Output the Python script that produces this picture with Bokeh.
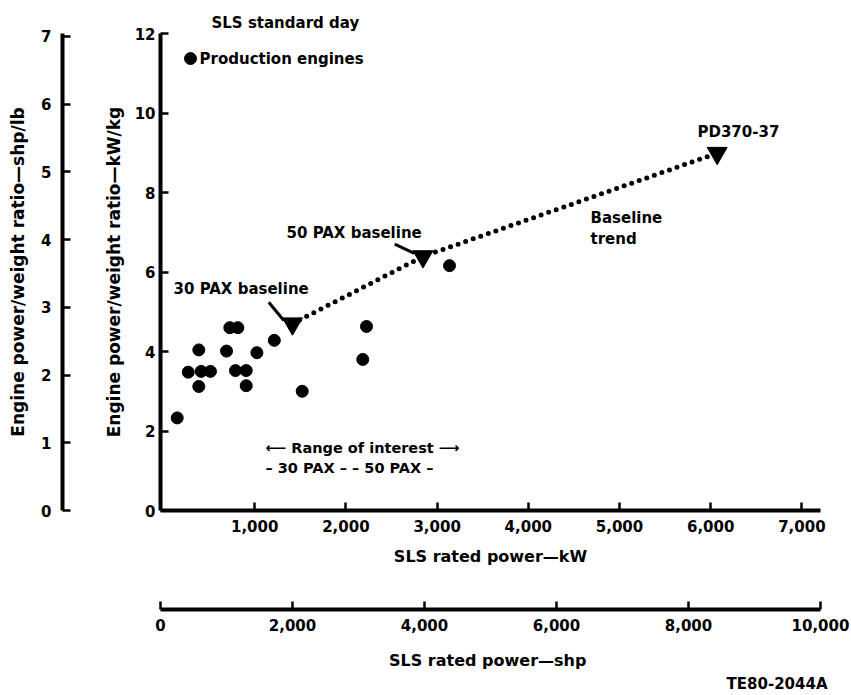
from bokeh.plotting import figure
from bokeh.models import (Range1d, LinearAxis, FixedTicker, NumeralTickFormatter,
                          Label, Title)
from bokeh.embed import file_html
from bokeh.resources import INLINE

# ---------------- data ----------------
# production engines: SLS rated power (kW) and power/weight ratio (kW/kg)
prod_kw = [150, 271, 387, 387, 413, 515, 691, 727, 815, 789, 907, 907,
           1024, 1215, 1521, 2226, 2185, 3136]
prod_ratio = [2.33, 3.48, 4.04, 3.12, 3.50, 3.50, 4.01, 4.60, 4.60, 3.52,
              3.52, 3.14, 3.97, 4.28, 3.00, 4.63, 3.80, 6.16]

# baseline engines (trend)
base_names = ["30 PAX baseline", "50 PAX baseline", "PD370-37"]
base_kw = [1414, 2845, 6071]
base_ratio = [4.70, 6.39, 8.99]

kw_ticks = [1000, 2000, 3000, 4000, 5000, 6000, 7000]
shp_ticks = [0, 2000, 4000, 6000, 8000, 10000]
kwkg_ticks = [0, 2, 4, 6, 8, 10, 12]
shplb_ticks = [0, 1, 2, 3, 4, 5, 6, 7]

FONT = "DejaVu Sans"

p = figure(width=851, height=695, output_backend="svg", toolbar_location=None,
           x_range=Range1d(-33, 7204), y_range=Range1d(0, 12),
           min_border_left=160, min_border_right=31, min_border_top=33,
           min_border_bottom=185)
p.extra_x_ranges = {"shp": Range1d(0, 10000)}
p.extra_y_ranges = {"shplb": Range1d(0, 7.044)}
p.outline_line_color = None
p.xgrid.visible = False
p.ygrid.visible = False
p.background_fill_color = "white"
p.border_fill_color = "white"


def style_axis(ax, ticks, label, label_standoff, axis_label_standoff):
    ax.ticker = FixedTicker(ticks=ticks)
    ax.axis_line_width = 4
    ax.axis_line_color = "black"
    ax.major_tick_in = 8
    ax.major_tick_out = 0
    ax.major_tick_line_width = 2.5
    ax.major_tick_line_color = "black"
    ax.minor_tick_line_color = None
    ax.major_label_text_font = FONT
    ax.major_label_text_font_style = "bold"
    ax.major_label_text_font_size = "15px"
    ax.major_label_text_color = "black"
    ax.major_label_standoff = label_standoff
    ax.axis_label = label
    ax.axis_label_text_font = FONT
    ax.axis_label_text_font_style = "bold"
    ax.axis_label_text_font_size = "16px"
    ax.axis_label_text_color = "black"
    ax.axis_label_standoff = axis_label_standoff


def spacer(size, tick, **kw):
    # a blank axis: one white outward tick (no label) only reserves room
    ax = LinearAxis(ticker=FixedTicker(ticks=[tick]), axis_line_color=None,
                    major_tick_line_color="white", major_tick_line_width=1,
                    minor_tick_line_color=None, major_tick_in=0,
                    major_tick_out=size, major_label_standoff=0,
                    major_label_text_font_size="1px",
                    major_label_overrides={tick: ""}, **kw)
    return ax


# main y axis (kW/kg)
style_axis(p.yaxis[0], kwkg_ticks, "Engine power/weight ratio\u2014kW/kg", 5, 8)
p.yaxis[0].axis_label_text_font_size = "17px"
# main x axis (kW)
style_axis(p.xaxis[0], kw_ticks, "SLS rated power\u2014kW", 9, 12)
p.xaxis[0].formatter = NumeralTickFormatter(format="0,0")

# outer y axis (shp/lb)
p.add_layout(spacer(38, 6.5, y_range_name="shplb"), "left")
ax_shplb = LinearAxis(y_range_name="shplb")
style_axis(ax_shplb, shplb_ticks, "Engine power/weight ratio\u2014shp/lb", 11, 10)
ax_shplb.axis_label_text_font_size = "17px"
p.add_layout(ax_shplb, "left")

# lower x axis (shp)
p.add_layout(spacer(41, 9000, x_range_name="shp"), "below")
ax_shp = LinearAxis(x_range_name="shp")
style_axis(ax_shp, shp_ticks, "SLS  rated power\u2014shp", 9, 17)
ax_shp.formatter = NumeralTickFormatter(format="0,0")
p.add_layout(ax_shp, "below")

p.add_layout(Title(text="TE80-2044A", align="right", offset=-7, text_font=FONT,
                   text_font_style="bold", text_font_size="15px",
                   text_color="black", standoff=0), "below")
p.add_layout(Title(text="SLS standard day", align="left", offset=51,
                   text_font=FONT, text_font_style="bold", text_font_size="15px",
                   text_color="black", standoff=3), "above")

# ---------------- marks ----------------
p.line(base_kw, base_ratio, line_color="black", line_width=5,
       line_dash="0 8", line_cap="round")
p.scatter(prod_kw, prod_ratio, size=12, color="black")
p.scatter(base_kw, base_ratio, marker="inverted_triangle", size=20, color="black")

# leader lines from labels to baseline markers (offsets in data units)
lead_dx = [-260, -310]
lead_dy = [0.54, 0.31]
for i in range(2):
    p.line([base_kw[i] + lead_dx[i], base_kw[i] - 95],
           [base_ratio[i] + lead_dy[i], base_ratio[i] + 0.08],
           line_color="black", line_width=3)


def add_label(x, y, text, size="15px", align="left"):
    p.add_layout(Label(x=x, y=y, text=text, text_font=FONT, text_font_style="bold",
                       text_font_size=size, text_color="black",
                       text_baseline="middle", text_align=align))


# legend entry
p.scatter([296], [11.37], size=12, color="black")
add_label(395, 11.37, "Production engines")

add_label(110, 5.56, base_names[0])
add_label(1349, 6.97, base_names[1])
add_label(5855, 9.51, base_names[2])
add_label(4682, 7.35, "Baseline")
add_label(4682, 6.84, "trend")
add_label(1118, 1.58, "\u27f5 Range of interest \u27f6", size="14.5px")
add_label(1118, 1.08, "\u2013 30 PAX \u2013 \u2013 50 PAX \u2013", size="14.5px")

open("out.html", "w").write(file_html(p, INLINE))
